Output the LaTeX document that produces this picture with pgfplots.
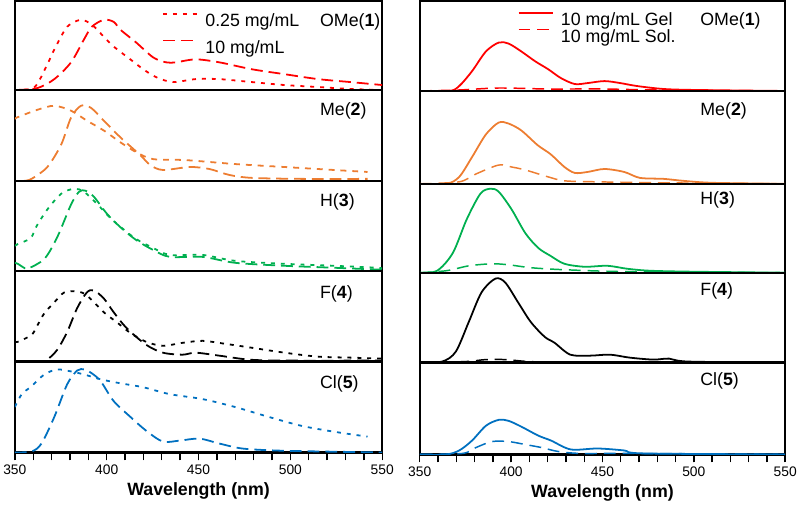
\documentclass[border=0pt]{standalone}
\usepackage{fontspec}
\setmainfont{Liberation Sans}
\usepackage{pgfplots}
\pgfplotsset{compat=1.18}
\definecolor{cRed}{RGB}{255,0,0}
\definecolor{cOra}{RGB}{237,125,49}
\definecolor{cGre}{RGB}{0,176,80}
\definecolor{cBlu}{RGB}{0,112,192}

\pgfplotsset{
  panel/.style={scale only axis, xmin=350, xmax=550, ymin=0,
    xtick=\empty, ytick=\empty, line width=2.2pt,
    axis line style={line width=2.2pt, black},
    every axis plot/.append style={smooth, line width=1.8pt}},
  leftp/.style={panel, width=372pt},
  rightp/.style={panel, width=370pt},
  bottomp/.style={xtick={350,400,...,550}, minor xtick={360,370,...,540},
    xtick pos=bottom, tick align=outside,
    major tick length=8pt, minor tick length=8pt,
    tick style={line width=1.4pt, black},
    xticklabel style={font=\fontsize{14}{14}\selectfont},
    /pgf/number format/assume math mode=true,
    xlabel={Wavelength (nm)},
    xlabel style={font=\bfseries\fontsize{18}{18}\selectfont}},
  dotl/.style={dash pattern=on 4pt off 6pt},
  dashl/.style={dash pattern=on 12pt off 6pt},
  dashr/.style={dash pattern=on 12pt off 7pt, line width=1.5pt},
  legbase/.style={legend cell align=left,
    legend image code/.code={\draw[##1] (0pt,6.5pt) -- (35pt,6.5pt);},
    legend style={draw=none, fill=none, inner sep=0pt, anchor=north west,
      font=\fontsize{18}{18}\selectfont, column sep=7pt,
      nodes={inner sep=0pt, text height=13pt, text depth=0pt}}},
}
\newcommand{\lab}[3]{\node[anchor=west, inner sep=0pt, font=\fontsize{18}{18}\selectfont] at (rel axis cs:#1,#2) {#3};}

\begin{document}
\begin{tikzpicture}
% ---------------- left column ----------------
\begin{axis}[leftp, height=90pt, ymax=90, at={(10pt,-92pt)}, anchor=south west, legbase,
  legend style={at={(rel axis cs:0.398,0.878)}, row sep=13pt}]
\addplot[cRed, dotl] coordinates {(350,0)(351.6,0)(360.8,3)(367.7,26)(371.5,41)(378.5,64)(386,71)(392,66)(398.4,54)(403.8,44)(412.9,31)(419.9,21)(426.9,13)(436,8)(448.4,11)(461.3,11)(479,8)(496.8,5)(515.1,3)(532.8,1)(550,0)};
\addplot[cRed, dashl] coordinates {(350,0)(351.6,0)(362.4,2)(371.5,11)(380.6,28)(387.6,51)(391.9,64)(398.4,71)(403.8,69)(407.5,61)(416.1,48)(425.3,33)(432.3,28)(437.6,28)(448.4,31)(461.3,28)(479,21)(496.8,16)(515.1,11)(532.8,8)(550,5)};
\addlegendentry{0.25 mg/mL}
\addlegendentry{10 mg/mL}
\lab{0.828}{0.77}{OMe(\textbf{1})}
\end{axis}

\begin{axis}[leftp, height=92pt, ymax=92, at={(10pt,-184pt)}, anchor=south west]
\addplot[cOra, dotl, dash pattern=on 6pt off 6pt] coordinates {(350,62)(351,64)(362.4,72)(371.5,76)(380.6,71)(389.2,61)(398.4,51)(407.5,39)(416.1,29)(425.3,22)(443,21)(469.9,17)(496.8,14)(523.7,11)(542,9)};
\addplot[cOra, dashl] coordinates {(355,0)(359.1,2)(367.7,14)(375.3,37)(380.6,64)(386,76)(391.4,74)(398.4,61)(407.5,44)(418.3,26)(423.7,16)(430.6,11)(445.2,14)(455.9,12)(466.7,6)(479,3)(505.9,2)(542,2)};
\lab{0.828}{0.77}{Me(\textbf{2})}
\end{axis}

\begin{axis}[leftp, height=91pt, ymax=91, at={(10pt,-275pt)}, anchor=south west]
\addplot[cGre, dotl] coordinates {(350,25)(351.6,27)(358.6,33)(361.8,45)(367.7,62)(375.3,78)(382.3,83)(387.6,80)(394.6,68)(402.2,53)(409.1,42)(416.1,32)(425.3,23)(434.4,16)(452.2,16)(469.9,10)(496.8,7)(523.7,5)(547.3,3)(550,2)};
\addplot[cGre, dashl] coordinates {(350,8)(351.6,7)(355,3)(357,2)(366.1,12)(373.1,34)(380.6,67)(385,80)(388.5,81)(393,75)(400,58)(407.5,44)(416.1,31)(425.3,21)(434.4,14)(452.2,14)(469.9,8)(496.8,5)(523.7,3)(550,1)};
\lab{0.828}{0.77}{H(\textbf{3})}
\end{axis}

\begin{axis}[leftp, height=92pt, ymax=92, at={(10pt,-367pt)}, anchor=south west]
\addplot[black, dotl] coordinates {(350,20)(351.6,20)(359.1,27)(362.4,37)(366.1,49)(371.5,60)(376.9,70)(383.9,71)(389.2,67)(398.4,50)(405.4,40)(412.9,29)(421.5,20)(430.6,16)(441.4,19)(452.2,21)(464.5,18)(479,14)(496.8,9)(515.1,5)(532.8,4)(550,3)};
\addplot[black, dashl] coordinates {(350,0)(364,0)(367.7,2)(373.1,12)(378.5,30)(383.9,54)(389.2,70)(393,72)(398.4,64)(403.8,50)(410.8,34)(421.5,17)(430.6,9)(441.4,7)(448.4,9)(461.3,6)(477.4,2)(496.8,1)(550,1)};
\lab{0.828}{0.75}{F(\textbf{4})}
\end{axis}

\begin{axis}[leftp, bottomp, height=92pt, ymax=92, at={(10pt,-459pt)}, anchor=south west]
\addplot[cBlu, dotl] coordinates {(350,46)(353.8,59)(359.1,67)(366.1,79)(373.1,84)(380.6,82)(387.6,79)(396.8,74)(407.5,70)(419.9,66)(434.4,59)(452.2,54)(469.9,46)(488.2,36)(505.9,27)(523.7,21)(542,16)};
\addplot[cBlu, dashl] coordinates {(350,0)(359.1,1)(364.5,9)(371.5,36)(378.5,69)(384,83)(388,84)(392,80)(396.8,72)(403.8,52)(412.9,36)(421.5,22)(430.6,11)(439.8,12)(450.5,14)(461.3,9)(473.7,4)(491.4,2)(515.1,1)(550,0)};
\lab{0.828}{0.75}{Cl(\textbf{5})}
\end{axis}

% ---------------- right column ----------------
\begin{axis}[rightp, height=91pt, ymax=91, at={(420pt,-93pt)}, anchor=south west, legbase,
  legend style={at={(rel axis cs:0.265,0.89)}, row sep=3pt}]
\addplot[cRed] coordinates {(350,0)(366.2,0)(371.6,5)(378.6,20)(386.2,40)(393.2,49)(398.6,48)(405.6,40)(413.2,30)(420.3,22)(427.3,13)(434.9,7)(441.9,8)(451.1,10)(459.7,8)(468.9,5)(483.5,2)(501.4,1)(550,0)};
\addplot[cRed, dashr] coordinates {(350,0)(371.6,1)(393.2,3)(420,2)(450,2)(480,1)(550,0)};
\addlegendentry{10 mg/mL Gel}
\addlegendentry{10 mg/mL Sol.}
\lab{0.765}{0.78}{OMe(\textbf{1})}
\end{axis}

\begin{axis}[rightp, height=94pt, ymax=94, at={(420pt,-187pt)}, anchor=south west]
\addplot[cOra] coordinates {(350,0)(364.6,0)(371.6,7)(378.6,27)(386.2,50)(393.2,62)(398.6,61)(405.6,54)(414.6,39)(421.6,30)(429.2,17)(434.9,11)(441.9,12)(451.1,15)(461.9,12)(470.5,6)(483.5,5)(494.3,3)(510.5,1)(550,0)};
\addplot[cOra, dashr] coordinates {(350,0)(371.6,2)(380.8,10)(393.2,19)(400.3,17)(407.8,14)(420.3,7)(429.4,3)(447.3,2)(483.5,1)(550,0)};
\lab{0.765}{0.79}{Me(\textbf{2})}
\end{axis}

\begin{axis}[rightp, height=90pt, ymax=90, at={(420pt,-277pt)}, anchor=south west]
\addplot[cGre] coordinates {(350,0)(359.5,2)(368.1,20)(375.7,54)(383.2,80)(388.6,85)(393.2,82)(400.3,64)(407.8,40)(414.9,25)(421.6,17)(429.2,9)(440.3,6)(452.7,7)(463.5,4)(475.9,2)(500,1)(550,0)};
\addplot[cGre, dashr] coordinates {(350,0)(364.6,2)(377,7)(389.5,9)(398.6,8)(411.1,5)(429.2,3)(465.1,1)(550,0)};
\lab{0.765}{0.82}{H(\textbf{3})}
\end{axis}

\begin{axis}[rightp, height=91pt, ymax=91, at={(420pt,-368pt)}, anchor=south west]
\addplot[black] coordinates {(350,0)(362.2,1)(369.7,11)(376.8,41)(383.8,71)(391.4,85)(396.8,81)(403.8,61)(410.8,41)(418.4,26)(423.8,20)(432.4,8)(443.2,7)(454.1,8)(464.9,5)(477.8,3)(486.5,4)(497.3,1)(550,0)};
\addplot[black, dashr] coordinates {(350,0)(375,1)(386,3)(397,3)(410,1)(430,0.5)(550,0)};
\lab{0.765}{0.80}{F(\textbf{4})}
\end{axis}

\begin{axis}[rightp, bottomp, height=93pt, ymax=93, at={(420pt,-461pt)}, anchor=south west]
\addplot[cBlu] coordinates {(350,0)(364.4,0)(371.6,4)(378.6,14)(386.2,29)(393.2,35)(398.6,34)(405.7,28)(414.9,19)(421.9,14)(432.7,5)(447.3,6)(461.9,4)(472.7,1)(550,0)};
\addplot[cBlu, dashr] coordinates {(350,0)(373.4,1)(380.8,7)(389.5,13)(398.6,13)(407.8,10)(416.5,7)(425.7,3)(438,1)(465,1)(550,0)};
\lab{0.765}{0.80}{Cl(\textbf{5})}
\end{axis}
\end{tikzpicture}
\end{document}
